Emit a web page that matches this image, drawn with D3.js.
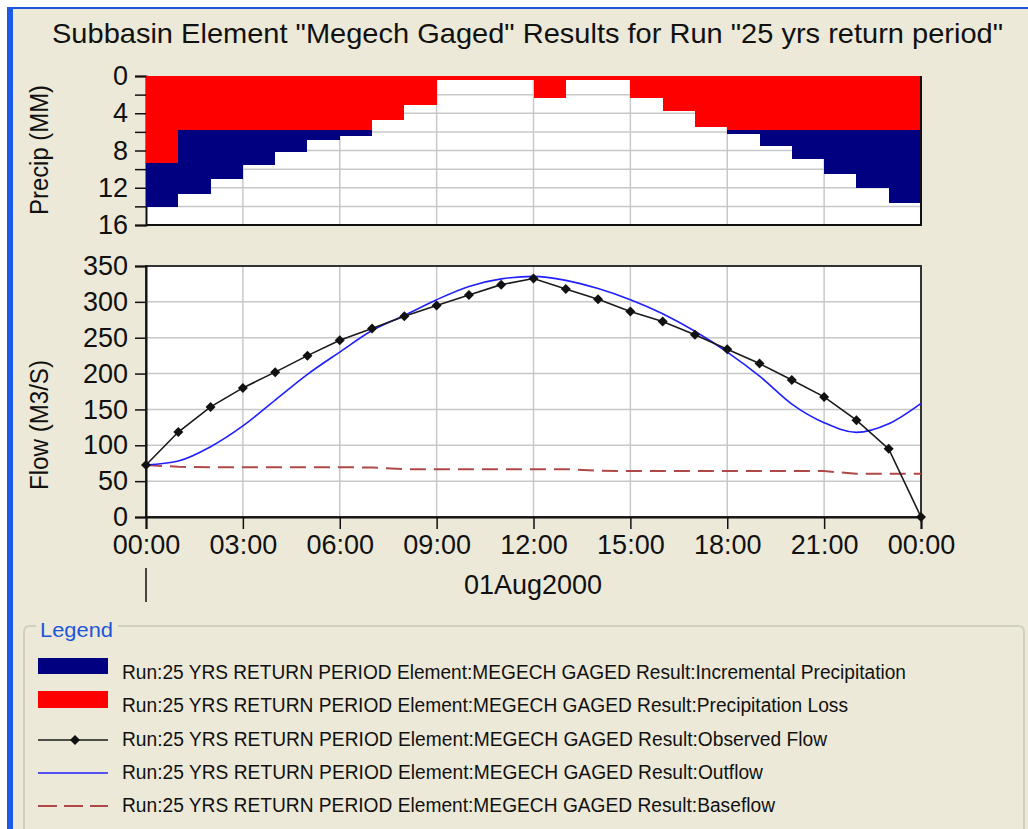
<!DOCTYPE html>
<html>
<head>
<meta charset="utf-8">
<script src="https://cdn.jsdelivr.net/npm/d3@7"></script>
<style>
body { margin: 0; background: #fff; }
svg text { font-family: "Liberation Sans", Arial, sans-serif; fill: #111; }
</style>
</head>
<body>
<script>
var w = 1028;
var h = 829;

// hourly times, 01Aug2000 00:00 -> 02Aug2000 00:00
var hours = [0, 1, 2, 3, 4, 5, 6, 7, 8, 9, 10, 11, 12, 13, 14, 15, 16, 17, 18, 19, 20, 21, 22, 23, 24];
var tickHours = [0, 3, 6, 9, 12, 15, 18, 21, 24];

// precip per hour interval (MM)
var incPrecip  = [14.1, 12.7, 11.1, 9.6, 8.2, 6.9, 6.4, 4.7, 3.1, 0.45, 0.45, 0.45,
                  2.4, 0.45, 0.45, 2.4, 3.75, 5.5, 6.2, 7.5, 8.9, 10.5, 12.0, 13.6];
var precipLoss = [9.3, 5.75, 5.75, 5.75, 5.75, 5.75, 5.75, 4.7, 3.1, 0.45, 0.45, 0.45,
                  2.4, 0.45, 0.45, 2.4, 3.75, 5.5, 5.75, 5.75, 5.75, 5.75, 5.75, 5.75];

// flows (M3/S)
var observed = [72.5, 118.5, 153.5, 180, 202, 225, 246.5, 263, 280, 295, 309.5, 324,
                332.5, 318, 303.5, 286.5, 272.5, 254, 234, 214, 191, 167.5, 135, 95, 0];
var outflow  = [72.5, 78, 98, 127, 163, 199, 230, 260, 281, 303, 321.5, 332,
                335.5, 330, 318.5, 303, 283.5, 259, 230, 196.5, 157.5, 131.5, 118, 130, 158.5];
var baseflow = [72.5, 70, 69.5, 69.5, 69.5, 69.5, 69.5, 69, 66.7, 66.7, 66.7, 66.7,
                66.7, 66.7, 64.5, 64, 64, 64, 64, 64, 64, 64, 60.3, 60.2, 60.2];

var precipTicks = [0, 2, 4, 6, 8, 10, 12, 14, 16];
var flowTicks = [0, 50, 100, 150, 200, 250, 300, 350];

var legendLabels = [
  "Run:25 YRS RETURN PERIOD Element:MEGECH GAGED Result:Incremental Precipitation",
  "Run:25 YRS RETURN PERIOD Element:MEGECH GAGED Result:Precipitation Loss",
  "Run:25 YRS RETURN PERIOD Element:MEGECH GAGED Result:Observed Flow",
  "Run:25 YRS RETURN PERIOD Element:MEGECH GAGED Result:Outflow",
  "Run:25 YRS RETURN PERIOD Element:MEGECH GAGED Result:Baseflow"
];
var legendLens = [784, 726, 705, 641, 653];

var bg = "#ece9d8";
var gridColor = "#c8c8c8";

var svg = d3.select("body").append("svg")
            .attr("width", w)
            .attr("height", h);

// window background and blue frame
svg.append("rect").attr("width", w).attr("height", h).attr("fill", "#fff");
svg.append("rect").attr("x", 7).attr("y", 7).attr("width", w - 7).attr("height", h - 7).attr("fill", bg);
svg.append("rect").attr("x", 7).attr("y", 7).attr("width", w - 7).attr("height", 2).attr("fill", "#1f56d6");
svg.append("rect").attr("x", 7).attr("y", 7).attr("width", 6).attr("height", h - 7).attr("fill", "#1f5ae6");

// title
svg.append("text")
   .attr("x", 52).attr("y", 43)
   .attr("font-size", "28px")
   .attr("textLength", 951)
   .attr("lengthAdjust", "spacingAndGlyphs")
   .text('Subbasin Element "Megech Gaged" Results for Run "25 yrs return period"');

var x = d3.scaleLinear().domain([0, 24]).range([146, 921]);
var yP = d3.scaleLinear().domain([0, 16]).range([76, 225]);
var yF = d3.scaleLinear().domain([0, 350]).range([517, 266]);

function styleAxis(g) {
  g.select(".domain").attr("stroke", "#111").attr("stroke-width", 2);
  g.selectAll(".tick line").attr("stroke", "#111").attr("stroke-width", 1.5);
  g.selectAll(".tick text").attr("font-size", "27px").attr("fill", "#111");
}

// ---------- precip panel ----------
svg.append("rect")
   .attr("x", x(0)).attr("y", yP(0))
   .attr("width", x(24) - x(0)).attr("height", yP(16) - yP(0))
   .attr("fill", "#fff");

svg.selectAll(".pgridH").data(precipTicks.slice(1, -1)).enter().append("line")
   .attr("x1", x(0)).attr("x2", x(24))
   .attr("y1", function(d){ return yP(d); }).attr("y2", function(d){ return yP(d); })
   .attr("stroke", gridColor).attr("stroke-width", 1.5);
svg.selectAll(".pgridV").data(tickHours.slice(1, -1)).enter().append("line")
   .attr("x1", function(d){ return x(d); }).attr("x2", function(d){ return x(d); })
   .attr("y1", yP(0)).attr("y2", yP(16))
   .attr("stroke", gridColor).attr("stroke-width", 1.5);

var pAxis = svg.append("g")
   .attr("transform", "translate(" + x(0) + ",0)")
   .call(d3.axisLeft(yP).tickValues(precipTicks).tickSize(11).tickPadding(7)
          .tickFormat(function(d){ return d % 4 === 0 ? d : ""; }));
styleAxis(pAxis);

// bars: blue = incremental precip, red = loss drawn over it
function barX(d, i) { return Math.round(x(hours[i])); }
function barW(d, i) { return Math.round(x(hours[i + 1])) - Math.round(x(hours[i])); }

svg.selectAll(".incBar").data(incPrecip).enter().append("rect")
   .attr("x", barX)
   .attr("y", yP(0))
   .attr("width", barW)
   .attr("height", function(d){ return yP(d) - yP(0); })
   .attr("fill", "#000080")
   .attr("shape-rendering", "crispEdges");
svg.selectAll(".lossBar").data(precipLoss).enter().append("rect")
   .attr("x", barX)
   .attr("y", yP(0))
   .attr("width", barW)
   .attr("height", function(d){ return yP(d) - yP(0); })
   .attr("fill", "#ff0000")
   .attr("shape-rendering", "crispEdges");

svg.append("path")
   .attr("d", "M" + x(24) + "," + yP(0) + "V" + yP(16) + "H" + x(0))
   .attr("fill", "none").attr("stroke", "#111").attr("stroke-width", 2);

svg.append("text")
   .attr("transform", "translate(48,150) rotate(-90)")
   .attr("text-anchor", "middle")
   .attr("font-size", "26px")
   .attr("textLength", 130)
   .attr("lengthAdjust", "spacingAndGlyphs")
   .text("Precip (MM)");

// ---------- flow panel ----------
svg.append("rect")
   .attr("x", x(0)).attr("y", yF(350))
   .attr("width", x(24) - x(0)).attr("height", yF(0) - yF(350))
   .attr("fill", "#fff");

svg.selectAll(".fgridH").data(flowTicks.slice(1, -1)).enter().append("line")
   .attr("x1", x(0)).attr("x2", x(24))
   .attr("y1", function(d){ return yF(d); }).attr("y2", function(d){ return yF(d); })
   .attr("stroke", gridColor).attr("stroke-width", 1.5);
svg.selectAll(".fgridV").data(tickHours.slice(1, -1)).enter().append("line")
   .attr("x1", function(d){ return x(d); }).attr("x2", function(d){ return x(d); })
   .attr("y1", yF(350)).attr("y2", yF(0))
   .attr("stroke", gridColor).attr("stroke-width", 1.5);

svg.append("rect")
   .attr("x", x(0)).attr("y", yF(350))
   .attr("width", x(24) - x(0)).attr("height", yF(0) - yF(350))
   .attr("fill", "none").attr("stroke", "#333").attr("stroke-width", 2);

var fAxis = svg.append("g")
   .attr("transform", "translate(" + x(0) + ",0)")
   .call(d3.axisLeft(yF).tickValues(flowTicks).tickSize(11).tickPadding(7));
styleAxis(fAxis);

var xAxis = svg.append("g")
   .attr("transform", "translate(0," + yF(0) + ")")
   .call(d3.axisBottom(x).tickValues(tickHours).tickSize(12).tickPadding(6)
          .tickFormat(function(d){ return (d % 24 < 10 ? "0" : "") + (d % 24) + ":00"; }));
styleAxis(xAxis);

svg.append("line")
   .attr("x1", x(0)).attr("x2", x(0))
   .attr("y1", 568).attr("y2", 602)
   .attr("stroke", "#111").attr("stroke-width", 1.5);
svg.append("text")
   .attr("x", 533).attr("y", 594)
   .attr("text-anchor", "middle")
   .attr("font-size", "27px")
   .text("01Aug2000");

svg.append("text")
   .attr("transform", "translate(48,425) rotate(-90)")
   .attr("text-anchor", "middle")
   .attr("font-size", "26px")
   .attr("textLength", 130)
   .attr("lengthAdjust", "spacingAndGlyphs")
   .text("Flow (M3/S)");

var line = d3.line()
   .x(function(d, i){ return x(hours[i]); })
   .y(function(d){ return yF(d); });

svg.append("path").datum(baseflow)
   .attr("d", line)
   .attr("fill", "none").attr("stroke", "#b04848").attr("stroke-width", 2)
   .attr("stroke-dasharray", "16,8");

svg.append("path").datum(outflow)
   .attr("d", line.curve(d3.curveMonotoneX))
   .attr("fill", "none").attr("stroke", "#2020ff").attr("stroke-width", 1.6);

svg.append("path").datum(observed)
   .attr("d", line.curve(d3.curveLinear))
   .attr("fill", "none").attr("stroke", "#1a1a1a").attr("stroke-width", 1.6);

var diamond = "M0,-5L5,0L0,5L-5,0Z";
svg.selectAll(".obsPt").data(observed).enter().append("path")
   .attr("d", diamond)
   .attr("transform", function(d, i){ return "translate(" + x(hours[i]) + "," + yF(d) + ")"; })
   .attr("fill", "#111");

// ---------- legend ----------
svg.append("path")
   .attr("d", "M24,850V632Q24,626 30,626H1018Q1024,626 1024,632V850")
   .attr("fill", "none").attr("stroke", "#d0d0bf").attr("stroke-width", 2);
svg.append("rect").attr("x", 36).attr("y", 616).attr("width", 82).attr("height", 22).attr("fill", bg);
svg.append("text")
   .attr("x", 40).attr("y", 637)
   .attr("font-size", "21px")
   .attr("textLength", 73)
   .attr("lengthAdjust", "spacingAndGlyphs")
   .style("fill", "#1d55d8")
   .text("Legend");

var rowY = [666, 699, 740, 773, 806];
var rowBase = [679, 712, 746, 779, 812];

svg.append("rect").attr("x", 38).attr("y", 658).attr("width", 70).attr("height", 16).attr("fill", "#000080");
svg.append("rect").attr("x", 38).attr("y", 691).attr("width", 70).attr("height", 17).attr("fill", "#ff0000");
svg.append("line").attr("x1", 38).attr("x2", 108).attr("y1", rowY[2]).attr("y2", rowY[2])
   .attr("stroke", "#1a1a1a").attr("stroke-width", 1.6);
svg.append("path").attr("d", diamond).attr("transform", "translate(75," + rowY[2] + ")").attr("fill", "#111");
svg.append("line").attr("x1", 38).attr("x2", 108).attr("y1", rowY[3]).attr("y2", rowY[3])
   .attr("stroke", "#2020ff").attr("stroke-width", 1.6);
svg.append("line").attr("x1", 38).attr("x2", 108).attr("y1", rowY[4]).attr("y2", rowY[4])
   .attr("stroke", "#b04848").attr("stroke-width", 2).attr("stroke-dasharray", "19,7");

svg.selectAll(".legText").data(legendLabels).enter().append("text")
   .attr("x", 122)
   .attr("y", function(d, i){ return rowBase[i]; })
   .attr("font-size", "19.5px")
   .attr("textLength", function(d, i){ return legendLens[i]; })
   .attr("lengthAdjust", "spacingAndGlyphs")
   .text(function(d){ return d; });
</script>
</body>
</html>
